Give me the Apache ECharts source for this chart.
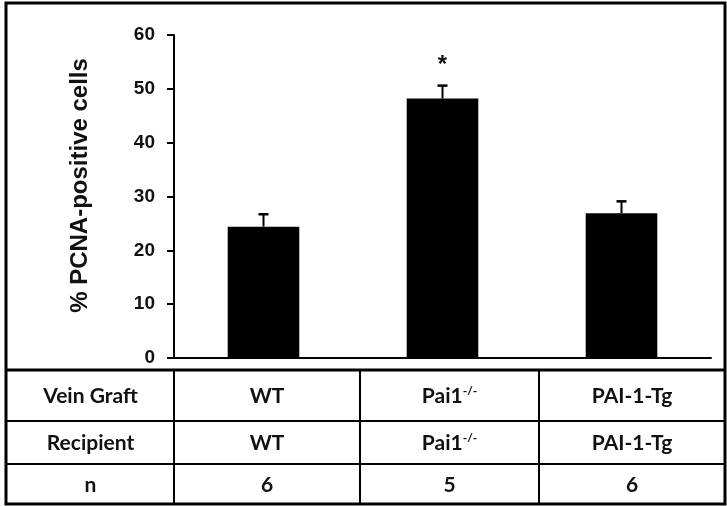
<!DOCTYPE html>
<html>
<head>
<meta charset="utf-8">
<script src="https://cdn.jsdelivr.net/npm/echarts@6/dist/echarts.min.js"></script>
<style>html,body{margin:0;padding:0;background:#fff;}#c{width:727px;height:506px;}</style>
</head>
<body>
<div id="c"></div>
<script>
const categories = ['WT', 'Pai1-/-', 'PAI-1-Tg'];
const meanValues = [24.4, 48.2, 26.9];
const errorValues = [2.3, 2.4, 2.2];
const significance = ['', '*', ''];
const yTicks = [0, 10, 20, 30, 40, 50, 60];
const rowLabels = ['Vein Graft', 'Recipient', 'n'];
const veinGraft = ['WT', 'Pai1{sup|-/-}', 'PAI-1-Tg'];
const recipient = ['WT', 'Pai1{sup|-/-}', 'PAI-1-Tg'];
const nCounts = ['6', '5', '6'];

const chart = echarts.init(document.getElementById('c'));

// table layout (decoration)
const colX = [7, 174, 360, 539, 725];
const rowY = [370, 421, 464, 504];
const graphics = [];
graphics.push({type:'rect', shape:{x:6, y:3, width:719, height:501}, style:{fill:null, stroke:'#000', lineWidth:3}});
graphics.push({type:'line', shape:{x1:6, y1:rowY[0], x2:725, y2:rowY[0]}, style:{stroke:'#000', lineWidth:3}});
for (let r = 1; r < rowY.length - 1; r++) {
  graphics.push({type:'line', shape:{x1:6, y1:rowY[r], x2:725, y2:rowY[r]}, style:{stroke:'#000', lineWidth:2}});
}
for (let c = 1; c < colX.length - 1; c++) {
  graphics.push({type:'line', shape:{x1:colX[c], y1:rowY[0], x2:colX[c], y2:rowY[3]}, style:{stroke:'#000', lineWidth:2}});
}
const rows = [veinGraft, recipient, nCounts];
const textStyleBase = {fontFamily:'Lato', fontWeight:'bold', fontSize:21, fill:'#111', align:'center', verticalAlign:'middle',
  rich:{sup:{fontSize:12, fontFamily:'Lato', fontWeight:'bold', verticalAlign:'top', padding:[0,0,10,0], fill:'#111'}}};
for (let r = 0; r < 3; r++) {
  const cy = (rowY[r] + rowY[r+1]) / 2 + 1;
  graphics.push({type:'text', x:(colX[0]+colX[1])/2, y:cy, style:Object.assign({}, textStyleBase, {text:rowLabels[r]})});
  for (let c = 0; c < 3; c++) {
    graphics.push({type:'text', x:(colX[c+1]+colX[c+2])/2, y:cy, style:Object.assign({}, textStyleBase, {text:rows[r][c]})});
  }
}

chart.setOption({
  animation: false,
  backgroundColor: '#fff',
  grid: {left: 174, right: 16, top: 35, bottom: 148, containLabel: false},
  xAxis: {
    type: 'category', data: categories,
    axisLine: {show: true, lineStyle: {color: '#000', width: 2}},
    axisTick: {show: false}, axisLabel: {show: false}
  },
  yAxis: {
    type: 'value', min: 0, max: 60, interval: 10,
    name: '% PCNA-positive cells', nameLocation: 'middle', nameGap: 82,
    nameTextStyle: {fontFamily: 'Liberation Sans, Arial', fontWeight: 'bold', fontSize: 24, color: '#111', padding: [0, 0, 0, 22]},
    axisLine: {show: true, lineStyle: {color: '#000', width: 2}},
    axisTick: {show: true, inside: false, length: 7, lineStyle: {color: '#000', width: 2}},
    axisLabel: {margin: 19, fontFamily: 'Liberation Sans, Arial', fontWeight: 'bold', fontSize: 19, color: '#111',
      formatter: v => yTicks.includes(v) ? String(v) : ''},
    splitLine: {show: false}
  },
  series: [
    {type: 'bar', data: meanValues, barWidth: '40%', itemStyle: {color: '#000'}, z: 2},
    {
      type: 'custom', z: 3,
      data: meanValues.map((m, i) => [i, m, errorValues[i]]),
      renderItem: function (params, api) {
        const i = api.value(0), m = api.value(1), e = api.value(2);
        const base = api.coord([i, m]);
        const top = api.coord([i, m + e]);
        const children = [
          {type: 'line', shape: {x1: base[0], y1: base[1], x2: top[0], y2: top[1]}, style: {stroke: '#000', lineWidth: 2}},
          {type: 'line', shape: {x1: top[0] - 5, y1: top[1], x2: top[0] + 5, y2: top[1]}, style: {stroke: '#000', lineWidth: 2.5}}
        ];
        if (significance[i]) {
          children.push({type: 'text', x: top[0], y: top[1] - 20,
            style: {text: significance[i], fontFamily: 'Liberation Sans, Arial', fontWeight: 'bold', fontSize: 24, fill: '#111', align: 'center', verticalAlign: 'middle'}});
        }
        return {type: 'group', children: children};
      }
    }
  ],
  graphic: graphics
});
</script>
</body>
</html>
